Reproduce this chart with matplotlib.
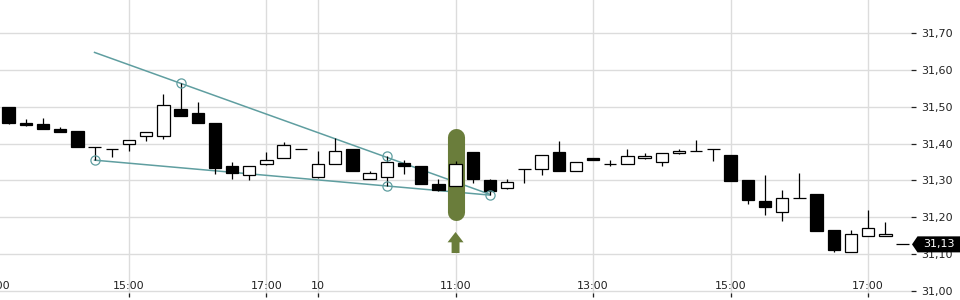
import matplotlib
matplotlib.use("Agg")
import matplotlib.pyplot as plt
from matplotlib.patches import Rectangle, Polygon, FancyArrow
from matplotlib.ticker import FuncFormatter, FixedLocator
import matplotlib.transforms as mtransforms

# ---- data: 15-minute bars (index 0 = 13:15 day 1, index 18 = 09:00 day 10)
opens = [31.500, 31.457, 31.452, 31.441, 31.433, 31.391, 31.385, 31.399, 31.421, 31.421,
         31.495, 31.482, 31.457, 31.340, 31.315, 31.345, 31.361, 31.385, 31.309, 31.345,
         31.385, 31.305, 31.309, 31.346, 31.339, 31.290, 31.285, 31.376, 31.302, 31.278,
         31.331, 31.330, 31.376, 31.326, 31.361, 31.345, 31.345, 31.360, 31.350, 31.375,
         31.380, 31.385, 31.369, 31.300, 31.243, 31.213, 31.253, 31.264, 31.165, 31.105,
         31.149, 31.149, 31.126]
highs = [31.500, 31.466, 31.471, 31.446, 31.435, 31.391, 31.385, 31.410, 31.432, 31.536,
         31.565, 31.512, 31.457, 31.351, 31.339, 31.376, 31.405, 31.385, 31.381, 31.416,
         31.385, 31.326, 31.365, 31.356, 31.339, 31.304, 31.352, 31.376, 31.305, 31.304,
         31.331, 31.369, 31.406, 31.350, 31.361, 31.355, 31.385, 31.375, 31.375, 31.385,
         31.410, 31.385, 31.369, 31.300, 31.314, 31.273, 31.319, 31.264, 31.165, 31.164,
         31.219, 31.188, 31.126]
lows = [31.453, 31.447, 31.439, 31.431, 31.390, 31.355, 31.363, 31.381, 31.406, 31.412,
        31.475, 31.455, 31.317, 31.304, 31.302, 31.341, 31.361, 31.385, 31.306, 31.345,
        31.325, 31.305, 31.285, 31.317, 31.290, 31.271, 31.285, 31.293, 31.260, 31.276,
        31.292, 31.316, 31.326, 31.326, 31.355, 31.338, 31.345, 31.358, 31.338, 31.371,
        31.380, 31.352, 31.298, 31.237, 31.207, 31.190, 31.253, 31.163, 31.106, 31.105,
        31.149, 31.149, 31.126]
closes = [31.456, 31.450, 31.439, 31.431, 31.390, 31.391, 31.385, 31.410, 31.432, 31.505,
          31.475, 31.455, 31.335, 31.320, 31.339, 31.356, 31.396, 31.385, 31.345, 31.380,
          31.325, 31.320, 31.350, 31.339, 31.290, 31.274, 31.345, 31.303, 31.270, 31.296,
          31.331, 31.369, 31.326, 31.350, 31.355, 31.345, 31.367, 31.366, 31.375, 31.380,
          31.380, 31.385, 31.298, 31.247, 31.228, 31.253, 31.253, 31.163, 31.112, 31.153,
          31.170, 31.154, 31.126]

tick_pos = [-1, 7, 15, 18, 26, 34, 42, 50]
tick_labels = ["13:00", "15:00", "17:00", "10", "11:00", "13:00", "15:00", "17:00"]
y_ticks = [31.00, 31.10, 31.20, 31.30, 31.40, 31.50, 31.60, 31.70]

# wedge (triangle) drawing
upper_x = [5, 28]
upper_y = [31.648, 31.262]
lower_x = [5, 28]
lower_y = [31.355, 31.260]
circle_x = [5, 10, 22, 22, 28]
circle_y = [31.355, 31.565, 31.365, 31.285, 31.260]

highlight_bar = 26
last_price = closes[-1]

# ---- figure
W, H = 960, 300
fig = plt.figure(figsize=(W / 100, H / 100), dpi=100)
# axes spans pixels x: -9.45..911.1 , y(top-down): 0..297
ax = fig.add_axes([-9.45 / W, 3 / H, 920.55 / W, 297 / H])
ax.set_xlim(-1.05, 52.5)
ax.set_ylim(30.98287, 31.79056)
for s in ax.spines.values():
    s.set_visible(False)

tc = "#222222"
grid_c = "#dcdcdc"
ax.yaxis.tick_right()
ax.set_yticks(y_ticks)
ax.yaxis.set_major_formatter(FuncFormatter(lambda v, p: f"{v:.2f}".replace(".", ",")))
ax.tick_params(axis="y", direction="out", length=3.3, width=0.9, pad=4.3,
               labelsize=8, colors=tc)
ax.xaxis.set_major_locator(FixedLocator(tick_pos))
ax.set_xticklabels(tick_labels)
ax.tick_params(axis="x", direction="in", length=3.0, width=0.9, pad=-11.5,
               labelsize=8, colors=tc)
ax.grid(True, color=grid_c, linewidth=1.0, zorder=0)
ax.set_axisbelow(True)

# the first (partly cut) time label sits a few pixels further right
first = ax.xaxis.get_major_ticks()[0].label1
first.set_transform(first.get_transform() +
                    mtransforms.ScaledTranslation(3.5 / 100, 0, fig.dpi_scale_trans))

# ---- wedge lines
teal = "#5f9ea0"
ax.plot(upper_x, upper_y, color=teal, lw=1.1, zorder=2)
ax.plot(lower_x, lower_y, color=teal, lw=1.1, zorder=2)
ax.plot(circle_x, circle_y, linestyle="none", marker="o", markersize=6.6,
        mfc="none", mec=teal, mew=0.9, zorder=5)

# ---- highlight
olive = "#6a7d3b"
ax.plot([highlight_bar, highlight_bar], [31.419, 31.215], color=olive, lw=12.3,
        solid_capstyle="round", zorder=3)
ax.add_patch(FancyArrow(highlight_bar, 31.1025, 0, 0.0571, width=0.46, head_width=0.93,
                        head_length=0.028, length_includes_head=True,
                        color=olive, lw=0, zorder=3))

# ---- candles
bw = 0.72
for i, (o, h, l, c) in enumerate(zip(opens, highs, lows, closes)):
    ax.plot([i, i], [l, h], color="black", lw=0.9, zorder=4, solid_capstyle="butt")
    lo, hi = min(o, c), max(o, c)
    face = "black" if c < o else "white"
    ax.add_patch(Rectangle((i - bw / 2, lo), bw, hi - lo, facecolor=face,
                           edgecolor="black", lw=0.9, zorder=4.5))

# ---- last price tag
tr = mtransforms.blended_transform_factory(fig.transFigure, ax.transData)
hh = 0.0218
tag = Polygon([(912 / W, last_price), (917.5 / W, last_price + hh), (1.0, last_price + hh),
               (1.0, last_price - hh), (917.5 / W, last_price - hh)],
              closed=True, transform=tr, facecolor="black", edgecolor="none",
              clip_on=False, zorder=10)
fig.add_artist(tag)
fig.text(939 / W, last_price, f"{last_price:.2f}".replace(".", ","), transform=tr,
         color="white", fontsize=8, ha="center", va="center", zorder=11)

fig.savefig("out.png", dpi=100, facecolor="white")
